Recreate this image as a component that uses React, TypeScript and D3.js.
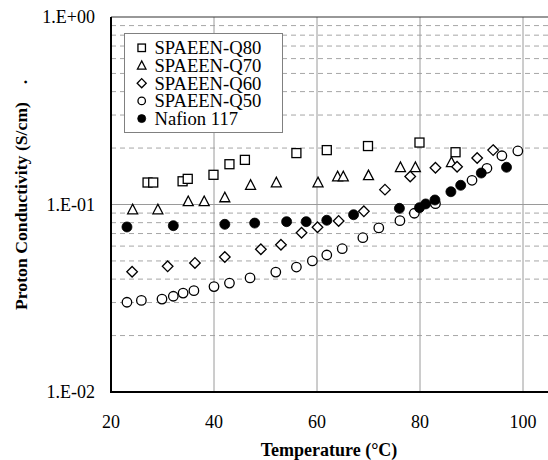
import React from "react";
import * as d3 from "d3";

const xTicks = [20, 40, 60, 80, 100];
const yMajor = [0.01, 0.1, 1];
const yTickLabels = ["1.E-02", "1.E-01", "1.E+00"];

const q80T = [27.1, 28.2, 33.9, 34.9, 39.9, 43.0, 46.0, 56.0, 61.9, 69.9, 79.9, 86.9];
const q80V = [0.131, 0.131, 0.133, 0.137, 0.144, 0.164, 0.173, 0.188, 0.195, 0.205, 0.214, 0.19];

const q70T = [24.2, 29.1, 35.0, 38.1, 42.1, 47.1, 52.1, 60.2, 64.0, 65.1, 70.0, 76.2, 79.1, 86.1];
const q70V = [0.094, 0.094, 0.104, 0.104, 0.109, 0.127, 0.131, 0.131, 0.141, 0.141, 0.143, 0.158, 0.158, 0.168];

const q60T = [24.1, 31.0, 36.3, 42.1, 49.1, 53.0, 57.0, 60.1, 64.2, 69.1, 73.2, 78.1, 83.0, 87.2, 91.1, 94.2];
const q60V = [0.0438, 0.0468, 0.0488, 0.0525, 0.0577, 0.061, 0.0707, 0.0756, 0.0817, 0.092, 0.12, 0.141, 0.157, 0.159, 0.177, 0.195];

const q50T = [23.1, 25.9, 29.9, 32.1, 34.0, 36.1, 40.0, 43.0, 47.0, 52.0, 56.0, 59.1, 61.9, 64.9, 68.9, 72.0, 76.1, 78.9, 83.0, 90.1, 93.0, 95.9, 99.0];
const q50V = [0.0301, 0.0308, 0.0313, 0.0324, 0.0337, 0.0347, 0.0365, 0.0381, 0.0406, 0.0436, 0.0464, 0.05, 0.0538, 0.0581, 0.0665, 0.075, 0.082, 0.0898, 0.101, 0.1346, 0.156, 0.182, 0.193];

const nafT = [23.1, 32.1, 42.1, 47.9, 54.1, 57.9, 61.9, 67.1, 76.0, 79.9, 81.1, 82.9, 86.0, 87.9, 91.9, 96.8];
const nafV = [0.0759, 0.0771, 0.0784, 0.0796, 0.081, 0.081, 0.0824, 0.0882, 0.0954, 0.0962, 0.1007, 0.1057, 0.117, 0.1266, 0.1472, 0.158];

const seriesNames = ["SPAEEN-Q80", "SPAEEN-Q70", "SPAEEN-Q60", "SPAEEN-Q50", "Nafion 117"];
const seriesShapes = ["square", "triangle", "diamond", "circle", "dot"];

const W = 548;
const H = 460;
const L = 111;
const TOP = 17;
const BOT = 392;
const FONT = "'Liberation Serif', 'Times New Roman', serif";
const TS: React.CSSProperties = { fontFamily: FONT };

function Marker({ shape, x, y, s }: { shape: string; x: number; y: number; s: number }) {
  const sw = 1.3;
  if (shape === "square")
    return <rect x={x - s / 2} y={y - s / 2} width={s} height={s} fill="white" stroke="black" strokeWidth={sw} />;
  if (shape === "triangle") {
    const h = s * 0.95;
    return (
      <polygon
        points={`${x},${y - h / 2 - 1} ${x - s / 2 - 0.5},${y + h / 2} ${x + s / 2 + 0.5},${y + h / 2}`}
        fill="white"
        stroke="black"
        strokeWidth={sw}
      />
    );
  }
  if (shape === "diamond") {
    const r = s / 2 + 0.8;
    return (
      <polygon
        points={`${x},${y - r} ${x + r},${y} ${x},${y + r} ${x - r},${y}`}
        fill="white"
        stroke="black"
        strokeWidth={sw}
      />
    );
  }
  if (shape === "circle") return <circle cx={x} cy={y} r={s / 2} fill="white" stroke="black" strokeWidth={sw} />;
  return <circle cx={x} cy={y} r={s / 2 + 0.5} fill="black" stroke="black" strokeWidth={0.8} />;
}

export default function App() {
  const x = d3.scaleLinear().domain([20, 110]).range([L, L + 90 * 5.15]);
  const y = d3.scaleLog().domain([0.01, 1]).range([BOT, TOP]);

  const minors: number[] = [];
  [0.01, 0.1].forEach((d) => {
    for (let k = 2; k <= 9; k++) minors.push(d * k);
  });

  const series = [
    [q80T, q80V],
    [q70T, q70V],
    [q60T, q60V],
    [q50T, q50V],
    [nafT, nafV],
  ];

  const legX = 124.5;
  const legY = 33.5;
  const legW = 158;
  const legH = 99;
  const rowY = [47.8, 65.5, 83.2, 100.9, 118.6];

  return (
    <svg width={W} height={H} style={{ position: "absolute", left: 0, top: 0, background: "white" }}>
      <rect x={0} y={0} width={W} height={H} fill="white" />
      {minors.map((m, i) => (
        <line
          key={"mn" + i}
          x1={L}
          x2={W}
          y1={y(m)}
          y2={y(m)}
          stroke="#a6a6a6"
          strokeWidth={1}
          strokeDasharray="5,4"
        />
      ))}
      {xTicks.slice(1).map((t) => (
        <line key={"vx" + t} x1={x(t)} x2={x(t)} y1={TOP} y2={BOT} stroke="#9a9a9a" strokeWidth={1} />
      ))}
      <line x1={L} x2={W} y1={y(0.1)} y2={y(0.1)} stroke="#9a9a9a" strokeWidth={1} />
      <line x1={L} x2={W} y1={y(1)} y2={y(1)} stroke="#333" strokeWidth={1.2} />

      {series.map(([ts, vs], si) =>
        ts.map((t, i) => (
          <Marker
            key={"p" + si + "-" + i}
            shape={seriesShapes[si]}
            x={x(t)}
            y={y(vs[i])}
            s={si === 3 ? 9.5 : 9}
          />
        ))
      )}

      <line x1={L} x2={L} y1={TOP} y2={BOT + 1} stroke="black" strokeWidth={2} />
      <line x1={L - 1} x2={W} y1={BOT} y2={BOT} stroke="black" strokeWidth={2} />

      {yMajor.map((v, i) => (
        <text key={"yl" + i} x={95} y={y(v)} textAnchor="end" dominantBaseline="central" fontSize={18} style={TS}>
          {yTickLabels[i]}
        </text>
      ))}
      {xTicks.map((t) => (
        <text key={"xl" + t} x={x(t)} y={422} textAnchor="middle" dominantBaseline="central" fontSize={18} style={TS}>
          {t}
        </text>
      ))}

      <text x={329} y={450} textAnchor="middle" dominantBaseline="central" fontSize={18} fontWeight="bold" style={TS}>
        Temperature (°C)
      </text>
      <text
        transform="translate(21,206) rotate(-90)"
        textAnchor="middle"
        dominantBaseline="central"
        fontSize={17.7}
        fontWeight="bold"
        style={TS}
      >
        Proton Conductivity (S/cm)
      </text>
      <text
        transform="translate(21,82) rotate(-90)"
        textAnchor="middle"
        dominantBaseline="central"
        fontSize={17.7}
        fontWeight="bold"
        style={TS}
      >
        .
      </text>

      <rect x={legX} y={legY} width={legW} height={legH} fill="white" stroke="#808080" strokeWidth={1} />
      {seriesNames.map((n, i) => (
        <g key={"lg" + i}>
          <Marker shape={seriesShapes[i]} x={141.7} y={rowY[i]} s={i === 4 ? 7 : 7.5} />
          <text x={154.5} y={rowY[i]} dominantBaseline="central" fontSize={18.6} style={TS}>
            {n}
          </text>
        </g>
      ))}
    </svg>
  );
}
